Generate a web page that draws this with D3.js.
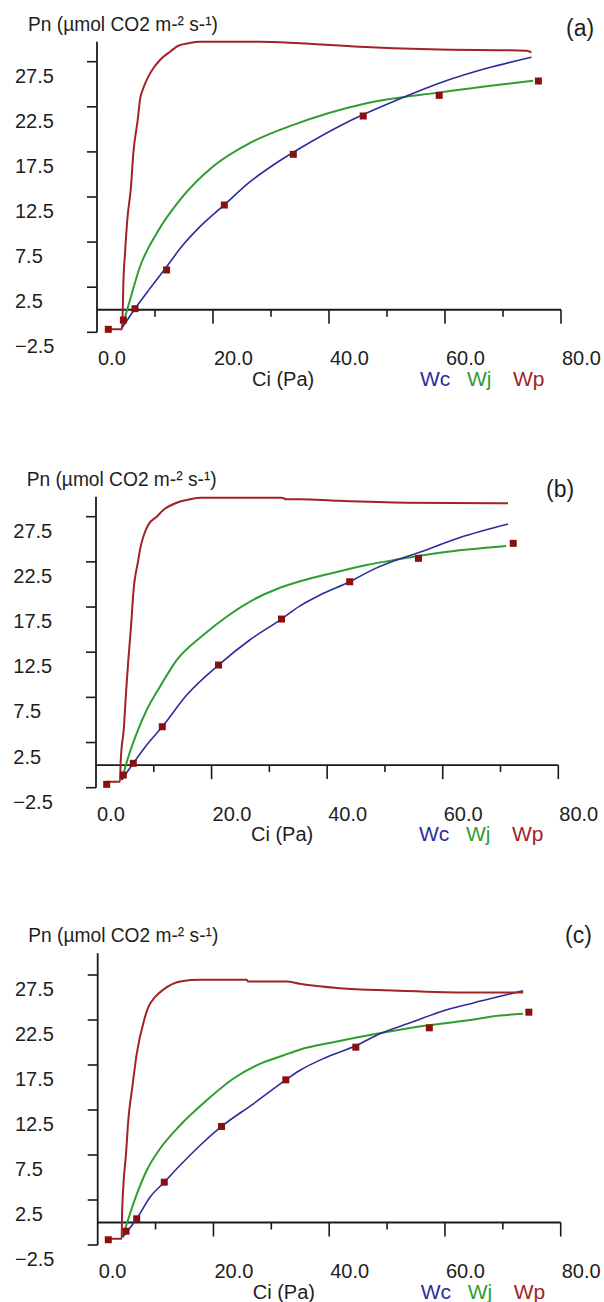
<!DOCTYPE html>
<html>
<head>
<meta charset="utf-8">
<script src="https://cdn.jsdelivr.net/npm/d3@7"></script>
<style>
  html, body { margin: 0; padding: 0; background: #fff; }
  svg { display: block; }
  text { font-family: "Liberation Sans", Arial, sans-serif; fill: #1e1e1e; }
</style>
</head>
<body>
<svg id="chart" width="604" height="1302"></svg>
<script>
// ---- Data: A/Ci response curves for three leaves ----
// Observed net assimilation (Ci in Pa, Pn in µmol CO2 m-2 s-1)
const obsCiA = [1.95, 4.55, 6.55, 12.0, 21.95, 33.85, 45.9, 59.0, 76.1];
const obsPnA = [-2.17, -1.14, 0.12, 4.41, 11.61, 17.23, 21.48, 23.77, 25.36];
const obsCiB = [1.85, 4.72, 6.45, 11.47, 21.2, 32.1, 43.9, 55.8, 72.2];
const obsPnB = [-2.13, -1.1, 0.2, 4.25, 11.08, 16.17, 20.3, 22.89, 24.55];
const obsCiC = [1.83, 4.89, 6.74, 11.5, 21.4, 32.5, 44.6, 57.3, 74.5];
const obsPnC = [-1.92, -0.97, 0.41, 4.48, 10.67, 15.85, 19.48, 21.63, 23.37];

// Modelled limitations: [Ci, Pn] pairs
const wcA = [[4.26,-2.06],[6.55,0.12],[9.14,2.37],[12.0,4.77],[14.6,7.0],[17.76,9.21],[21.9,11.6],[26.4,14.2],[30.4,16.05],[35.0,17.9],[43.9,21.04],[51.7,23.25],[59.7,25.28],[67.2,26.77],[74.9,27.99]];
const wjA = [[4.26,-2.06],[5.69,1.08],[7.41,4.77],[10.3,8.48],[14.3,12.17],[20.05,15.9],[26.4,18.5],[33.85,20.5],[46.5,22.9],[59.1,24.1],[75.2,25.4]];
const wpA = [[1.95,-2.17],[4.3,-2.17],[4.45,0.2],[4.53,2.56],[4.83,6.26],[5.22,9.95],[5.86,13.64],[6.26,17.34],[7.02,21.04],[7.41,23.26],[7.98,24.55],[8.84,25.84],[9.71,26.77],[10.86,27.69],[12.59,28.61],[14.02,29.27],[15.74,29.54],[17.76,29.72],[28.1,29.72],[35.0,29.54],[45.3,29.16],[57.4,28.87],[74.1,28.72],[74.9,28.54]];

const wcB = [[4.45,-1.65],[6.45,0.2],[8.77,2.23],[11.47,4.25],[15.7,7.76],[21.2,11.08],[26.6,13.85],[32.1,16.17],[35.3,17.63],[38.75,18.83],[43.9,20.3],[48.0,21.67],[52.0,22.7],[55.5,23.45],[63.0,25.2],[71.3,26.69]];
const wjB = [[4.45,-1.65],[5.6,0.93],[7.04,3.52],[8.77,6.1],[11.07,8.68],[13.96,11.63],[18.56,14.4],[22.6,16.43],[27.8,18.5],[31.3,19.5],[35.3,20.35],[41.1,21.3],[46.8,22.15],[52.0,22.75],[59.5,23.51],[71.0,24.25]];
const wpB = [[1.85,-1.84],[4.15,-1.84],[4.27,0.38],[4.84,4.25],[5.19,7.95],[5.59,11.63],[6.06,15.32],[6.45,19.02],[7.32,22.71],[7.6,23.8],[8.2,25.3],[9.05,26.6],[10.5,27.5],[11.65,28.24],[13.96,29.05],[15.7,29.35],[18.0,29.6],[32.1,29.6],[33.0,29.43],[35.3,29.43],[41.6,29.27],[53.75,29.05],[71.3,28.98]];

const wcC = [[4.3,-1.63],[6.74,0.41],[9.03,2.81],[11.5,4.48],[14.2,6.33],[17.67,8.56],[21.4,10.67],[26.9,13.19],[32.5,15.85],[34.9,16.89],[39.55,18.37],[44.7,19.67],[48.75,20.97],[54.5,22.3],[59.1,23.4],[64.9,24.4],[70.6,25.3],[73.5,25.75]];
const wjC = [[4.3,-1.63],[5.58,0.97],[7.0,3.56],[8.46,5.78],[10.76,8.19],[14.2,10.78],[18.8,13.56],[23.4,15.97],[28.0,17.63],[32.05,18.56],[34.9,19.2],[40.7,20.03],[48.2,20.97],[56.8,21.89],[63.7,22.44],[69.5,23.0],[73.5,23.19]];
const wpC = [[1.83,-1.81],[4.14,-1.81],[4.2,0.5],[4.42,3.93],[4.89,7.63],[5.28,11.33],[5.98,15.03],[6.74,18.74],[8.0,22.44],[8.74,23.92],[9.9,25.03],[11.3,25.86],[14.5,26.81],[17.67,26.97],[25.7,26.97],[26.0,26.78],[32.6,26.78],[34.9,26.52],[41.8,26.03],[51.05,25.78],[64.3,25.55],[73.5,25.55]];

// Axis ticks and labels
const yTicks = [-2.5, 2.5, 7.5, 12.5, 17.5, 22.5, 27.5];
const xTicks = [10, 20, 30, 40, 50, 60, 70, 80];
const xLabels = [0, 20, 40, 60, 80];
const yTitle = "Pn (µmol CO2 m-² s-¹)";
const xTitle = "Ci (Pa)";
const seriesNames = ["Wc", "Wj", "Wp"];
const panelTags = ["(a)", "(b)", "(c)"];

// ---- Styles ----
const colors = { Wc: "#2c2c9c", Wj: "#2f9e2f", Wp: "#a12327", obs: "#8a1010", axis: "#1a1a1a" };

// ---- Layout of the three stacked panels ----
const layout = [
  { x0: 97,   x80: 561,   yNeg: 332.3, y275: 61.7,  top: 41.7,  labX: 15,   titleX: 28,   tagX: 566, tagY: 36 },
  { x0: 96,   x80: 558.3, yNeg: 787.7, y275: 516.7, top: 496.7, labX: 13.3, titleX: 26.7, tagX: 546, tagY: 497 },
  { x0: 97.7, x80: 560.7, yNeg: 1245,  y275: 975,   top: 953.3, labX: 15,   titleX: 28.3, tagX: 565, tagY: 943 }
];

const panels = [
  { ci: obsCiA, pn: obsPnA, Wc: wcA, Wj: wjA, Wp: wpA },
  { ci: obsCiB, pn: obsPnB, Wc: wcB, Wj: wjB, Wp: wpB },
  { ci: obsCiC, pn: obsPnC, Wc: wcC, Wj: wjC, Wp: wpC }
];

const svg = d3.select("#chart");

panels.forEach((p, i) => {
  const L = layout[i];
  const x = d3.scaleLinear().domain([0, 80]).range([L.x0, L.x80]);
  const y = d3.scaleLinear().domain([-2.5, 27.5]).range([L.yNeg, L.y275]);
  const g = svg.append("g");
  const y0 = y(0);

  // y axis line and ticks
  g.append("line")
    .attr("x1", x(0)).attr("x2", x(0))
    .attr("y1", L.top).attr("y2", y(-2.5))
    .attr("stroke", colors.axis).attr("stroke-width", 1.8);
  g.selectAll(".yt").data(yTicks).join("line")
    .attr("x1", x(0) - 10).attr("x2", x(0))
    .attr("y1", d => y(d)).attr("y2", d => y(d))
    .attr("stroke", colors.axis).attr("stroke-width", 1.6);
  g.selectAll(".yl").data(yTicks).join("text")
    .attr("x", L.labX).attr("y", d => y(d) + 21)
    .attr("font-size", 20)
    .text(d => d3.format(".1f")(d));

  // x axis along Pn = 0
  g.append("line")
    .attr("x1", x(0)).attr("x2", x(80))
    .attr("y1", y0).attr("y2", y0)
    .attr("stroke", colors.axis).attr("stroke-width", 1.8);
  g.selectAll(".xt").data(xTicks).join("line")
    .attr("x1", d => x(d)).attr("x2", d => x(d))
    .attr("y1", y0).attr("y2", d => y0 + (d % 20 === 0 ? 14 : 7))
    .attr("stroke", colors.axis).attr("stroke-width", 1.6);
  g.selectAll(".xl").data(xLabels).join("text")
    .attr("x", d => x(d) + 1).attr("y", y0 + 55.5)
    .attr("font-size", 20)
    .text(d => d3.format(".1f")(d));

  // titles
  g.append("text")
    .attr("x", L.titleX).attr("y", L.top - 11)
    .attr("font-size", 20)
    .attr("textLength", 190).attr("lengthAdjust", "spacingAndGlyphs")
    .text(yTitle);
  g.append("text")
    .attr("x", x(0) + 155).attr("y", y0 + 76)
    .attr("font-size", 20)
    .text(xTitle);

  // legend
  const legX = [323, 370, 416];
  seriesNames.forEach((s, k) => {
    g.append("text")
      .attr("x", x(0) + legX[k]).attr("y", y0 + 76)
      .attr("font-size", 21)
      .attr("fill", colors[s]).style("fill", colors[s])
      .text(s);
  });

  // panel tag
  g.append("text")
    .attr("x", L.tagX).attr("y", L.tagY)
    .attr("font-size", 23)
    .text(panelTags[i]);

  // model curves
  const line = d3.line().x(d => x(d[0])).y(d => y(d[1])).curve(d3.curveMonotoneX);
  const widths = { Wc: 1.6, Wj: 2, Wp: 2 };
  ["Wj", "Wc", "Wp"].forEach(s => {
    g.append("path")
      .datum(p[s])
      .attr("d", line)
      .attr("fill", "none")
      .attr("stroke", colors[s])
      .attr("stroke-width", widths[s])
      .attr("stroke-linejoin", "round");
  });

  // observations
  g.selectAll(".pt").data(p.ci.map((c, k) => [c, p.pn[k]])).join("rect")
    .attr("x", d => x(d[0]) - 3.5).attr("y", d => y(d[1]) - 3.5)
    .attr("width", 7).attr("height", 7)
    .attr("fill", colors.obs);
});
</script>
</body>
</html>
